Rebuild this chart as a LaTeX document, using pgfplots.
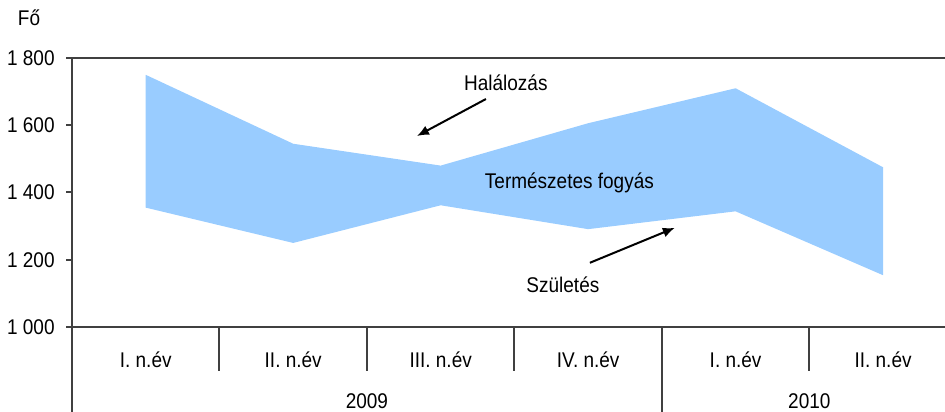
\documentclass[border=0pt]{standalone}
\usepackage{pgfplots}
\pgfplotsset{compat=1.18}
\usepgfplotslibrary{fillbetween}
\usetikzlibrary{arrows.meta}
\usepackage{fontspec}
\setmainfont{Liberation Sans}
\definecolor{areablue}{RGB}{153,204,255}
\definecolor{axgray}{RGB}{64,64,64}
\begin{document}
\begin{tikzpicture}
\begin{axis}[
  scale only axis,
  width=436.5pt, height=134.5pt,
  xmin=0.5, xmax=6.42,
  ymin=1000, ymax=1800,
  axis line style={draw=none},
  clip=false,
  font=\fontsize{9.5pt}{11.4pt}\selectfont,
  ytick={1000,1200,1400,1600,1800},
  /pgf/number format/assume math mode=true,
  /pgf/number format/1000 sep={\ },
  yticklabel style={anchor=east, xshift=-8.5pt, inner sep=0pt, yscale=1.12},
  xtick={1,2,3,4,5,6},
  xticklabels={I. n.év, II. n.év, III. n.év, IV. n.év, I. n.év, II. n.év},
  xticklabel style={anchor=center, yshift=-16.5pt, inner sep=0pt, yscale=1.12},
  extra x ticks={2.5,5.5},
  extra x tick labels={2009,2010},
  extra x tick style={xticklabel style={yshift=-18.5pt}},
  major tick length=0pt,
  xticklabel pos=left, yticklabel pos=left,
]
% Halálozás (upper) and Születés (lower)
\addplot[name path=up, draw=none] coordinates {(1,1750) (2,1545) (3,1480) (4,1606) (5,1710) (6,1475)};
\addplot[name path=lo, draw=none] coordinates {(1,1355) (2,1250) (3,1362) (4,1291) (5,1344) (6,1154)};
\addplot[areablue, draw=none] fill between[of=up and lo];

% frame lines
\draw[axgray, line width=1pt] (rel axis cs:0,1) -- (rel axis cs:1,1);
\draw[axgray, line width=1pt] (rel axis cs:0,0) -- (rel axis cs:1,0);
\draw[axgray, line width=1pt] (rel axis cs:0,1) -- ([yshift=-42.5pt]rel axis cs:0,0);
\pgfplotsinvokeforeach{1000,1200,1400,1600,1800}{
  \draw[axgray, line width=1pt] (axis cs:0.5,#1) -- ([xshift=-3pt]axis cs:0.5,#1);
}
\pgfplotsinvokeforeach{1.5,2.5,3.5,5.5}{
  \draw[axgray, line width=1pt] (axis cs:#1,1000) -- ([yshift=-22pt]axis cs:#1,1000);
}
\draw[axgray, line width=1pt] (axis cs:4.5,1000) -- ([yshift=-42.5pt]axis cs:4.5,1000);

% annotations
\node[yscale=1.12] at (axis cs:3.442,1726) {Halálozás};
\draw[-{Latex[length=6pt,width=5pt]}, line width=1pt] (axis cs:3.307,1678) -- (axis cs:2.839,1568);
\node[yscale=1.12] at (axis cs:3.873,1428) {Természetes fogyás};
\node[yscale=1.12] at (axis cs:3.829,1125) {Születés};
\draw[-{Latex[length=6pt,width=5pt]}, line width=1pt] (axis cs:4.012,1191) -- (axis cs:4.588,1295);

\node[yscale=1.12] at ([xshift=-21.5pt, yshift=20pt]rel axis cs:0,1) {Fő};

\coordinate (sw) at (rel axis cs:0,0);
\coordinate (ne) at (rel axis cs:1,1);
\end{axis}
\pgfresetboundingbox
\path[use as bounding box] ([xshift=-36pt, yshift=-42.5pt]sw) rectangle ([yshift=29pt]ne);
\end{tikzpicture}
\end{document}
